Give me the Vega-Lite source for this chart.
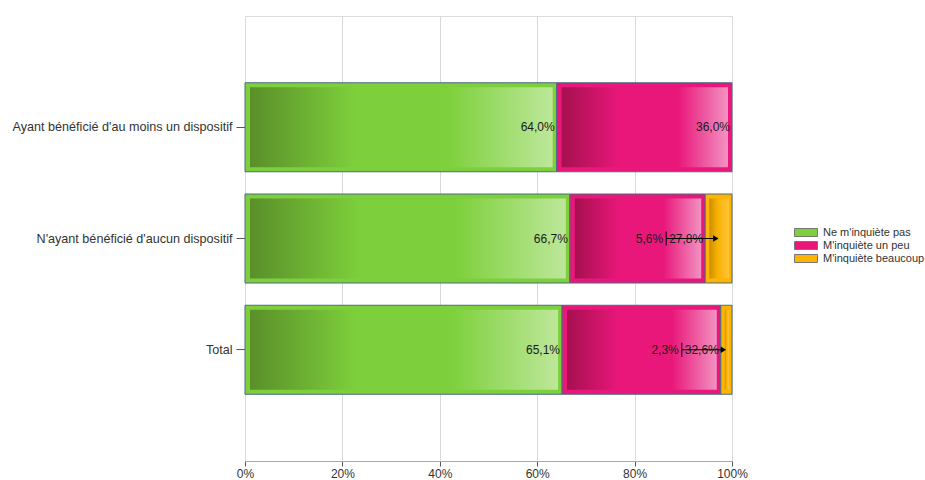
{
  "$schema": "https://vega.github.io/schema/vega-lite/v6.json",
  "width": 487,
  "height": 445,
  "autosize": "none",
  "padding": {"left": 245, "top": 16, "right": 193, "bottom": 19},
  "background": "white",
  "config": {
    "font": "Liberation Sans",
    "view": {"stroke": "#dddddd"},
    "axis": {"labelFont": "Liberation Sans", "labelFontSize": 12, "labelColor": "#333333"}
  },
  "data": {
    "values": [
      {"cat": "Ayant bénéficié d'au moins un dispositif", "series": "Ne m'inquiète pas", "k": 1, "value": 64.0},
      {"cat": "Ayant bénéficié d'au moins un dispositif", "series": "M'inquiète un peu", "k": 2, "value": 36.0},
      {"cat": "N'ayant bénéficié d'aucun dispositif", "series": "Ne m'inquiète pas", "k": 1, "value": 66.7},
      {"cat": "N'ayant bénéficié d'aucun dispositif", "series": "M'inquiète un peu", "k": 2, "value": 27.8},
      {"cat": "N'ayant bénéficié d'aucun dispositif", "series": "M'inquiète beaucoup", "k": 3, "value": 5.6},
      {"cat": "Total", "series": "Ne m'inquiète pas", "k": 1, "value": 65.1},
      {"cat": "Total", "series": "M'inquiète un peu", "k": 2, "value": 32.6},
      {"cat": "Total", "series": "M'inquiète beaucoup", "k": 3, "value": 2.3}
    ]
  },
  "transform": [
    {"stack": "value", "groupby": ["cat"], "sort": [{"field": "k", "order": "ascending"}], "as": ["x0", "x1"]},
    {"calculate": "(datum.x0 + datum.x1) / 2", "as": "mid"},
    {"calculate": "replace(format(datum.value, '.1f'), '.', ',') + '%'", "as": "label"}
  ],
  "encoding": {
    "y": {
      "field": "cat",
      "type": "nominal",
      "sort": null,
      "title": null,
      "scale": {"paddingInner": 0.2, "paddingOuter": 0.6},
      "axis": {"domain": false, "tickSize": 9, "tickColor": "#555555", "labelPadding": 4, "labelLimit": 300, "labelFontSize": 12.6}
    }
  },
  "layer": [
    {
      "mark": {"type": "bar", "stroke": "#4a6a8a", "strokeWidth": 1},
      "encoding": {
        "x": {
          "field": "x0",
          "type": "quantitative",
          "scale": {"domain": [0, 100], "clamp": true, "nice": false},
          "title": null,
          "axis": {
            "values": [0, 20, 40, 60, 80, 100],
            "labelExpr": "datum.value + '%'",
            "labelFlush": false,
            "grid": true,
            "gridColor": "#d9d9d9",
            "domainColor": "#aaaaaa",
            "tickColor": "#555555",
            "tickSize": 5,
            "labelPadding": 2
          }
        },
        "x2": {"field": "x1"},
        "color": {
          "field": "series",
          "type": "nominal",
          "scale": {
            "domain": ["Ne m'inquiète pas", "M'inquiète un peu", "M'inquiète beaucoup"],
            "range": ["#7dd03b", "#e9177a", "#ffb400"]
          },
          "legend": {
            "title": null,
            "orient": "none",
            "legendX": 548,
            "legendY": 211,
            "symbolType": "M-1,-1L4.75,-1L4.75,1L-1,1Z",
            "symbolSize": 64,
            "symbolStrokeColor": "#777777",
            "symbolStrokeWidth": 1,
            "symbolOpacity": 1,
            "labelFontSize": 11,
            "labelColor": "#333333",
            "labelOffset": 19,
            "rowPadding": 0
          }
        }
      }
    },
    {
      "transform": [{"filter": "datum.k == 1"}],
      "mark": {
        "type": "bar",
        "height": {"band": 0.9},
        "xOffset": 5,
        "x2Offset": -4,
        "fill": {
          "gradient": "linear", "x1": 0, "y1": 0, "x2": 1, "y2": 0,
          "stops": [
            {"offset": 0, "color": "#5a8f2a"},
            {"offset": 0.35, "color": "#7dd03b"},
            {"offset": 0.65, "color": "#7dd03b"},
            {"offset": 1, "color": "#bde79a"}
          ]
        }
      },
      "encoding": {"x": {"field": "x0", "type": "quantitative"}, "x2": {"field": "x1"}}
    },
    {
      "transform": [{"filter": "datum.k == 2"}],
      "mark": {
        "type": "bar",
        "height": {"band": 0.9},
        "xOffset": 5,
        "x2Offset": -4,
        "fill": {
          "gradient": "linear", "x1": 0, "y1": 0, "x2": 1, "y2": 0,
          "stops": [
            {"offset": 0, "color": "#a5104f"},
            {"offset": 0.35, "color": "#e9177a"},
            {"offset": 0.7, "color": "#e9177a"},
            {"offset": 1, "color": "#f292c1"}
          ]
        }
      },
      "encoding": {"x": {"field": "x0", "type": "quantitative"}, "x2": {"field": "x1"}}
    },
    {
      "transform": [{"filter": "datum.k == 3"}],
      "mark": {
        "type": "bar",
        "height": {"band": 0.9},
        "xOffset": 4,
        "x2Offset": -3,
        "fill": {
          "gradient": "linear", "x1": 0, "y1": 0, "x2": 1, "y2": 0,
          "stops": [
            {"offset": 0, "color": "#c98f00"},
            {"offset": 0.4, "color": "#f7b000"},
            {"offset": 1, "color": "#ffc43a"}
          ]
        }
      },
      "encoding": {"x": {"field": "x0", "type": "quantitative"}, "x2": {"field": "x1"}}
    },
    {
      "transform": [{"filter": "datum.k <= 2"}],
      "mark": {"type": "text", "align": "right", "baseline": "middle", "dx": -2, "fontSize": 12, "color": "#1a1a1a"},
      "encoding": {"x": {"field": "x1", "type": "quantitative"}, "text": {"field": "label"}}
    },
    {
      "transform": [{"filter": "datum.k == 3"}],
      "mark": {"type": "text", "align": "right", "baseline": "middle", "dx": -42, "fontSize": 12, "color": "#1a1a1a"},
      "encoding": {"x": {"field": "x0", "type": "quantitative"}, "text": {"field": "label"}}
    },
    {
      "transform": [{"filter": "datum.k == 3"}],
      "mark": {"type": "rule", "color": "#000000", "strokeWidth": 1, "xOffset": -39, "x2Offset": -3},
      "encoding": {"x": {"field": "x0", "type": "quantitative"}, "x2": {"field": "mid"}}
    },
    {
      "transform": [{"filter": "datum.k == 3"}],
      "mark": {"type": "point", "shape": "M0,-1L0,1", "size": 196, "stroke": "#000000", "strokeWidth": 1, "filled": false, "opacity": 1, "xOffset": -39},
      "encoding": {"x": {"field": "x0", "type": "quantitative"}}
    },
    {
      "transform": [{"filter": "datum.k == 3"}],
      "mark": {"type": "point", "shape": "triangle-right", "size": 40, "filled": true, "fill": "#000000", "opacity": 1, "strokeWidth": 0, "xOffset": -3},
      "encoding": {"x": {"field": "mid", "type": "quantitative"}}
    }
  ]
}
